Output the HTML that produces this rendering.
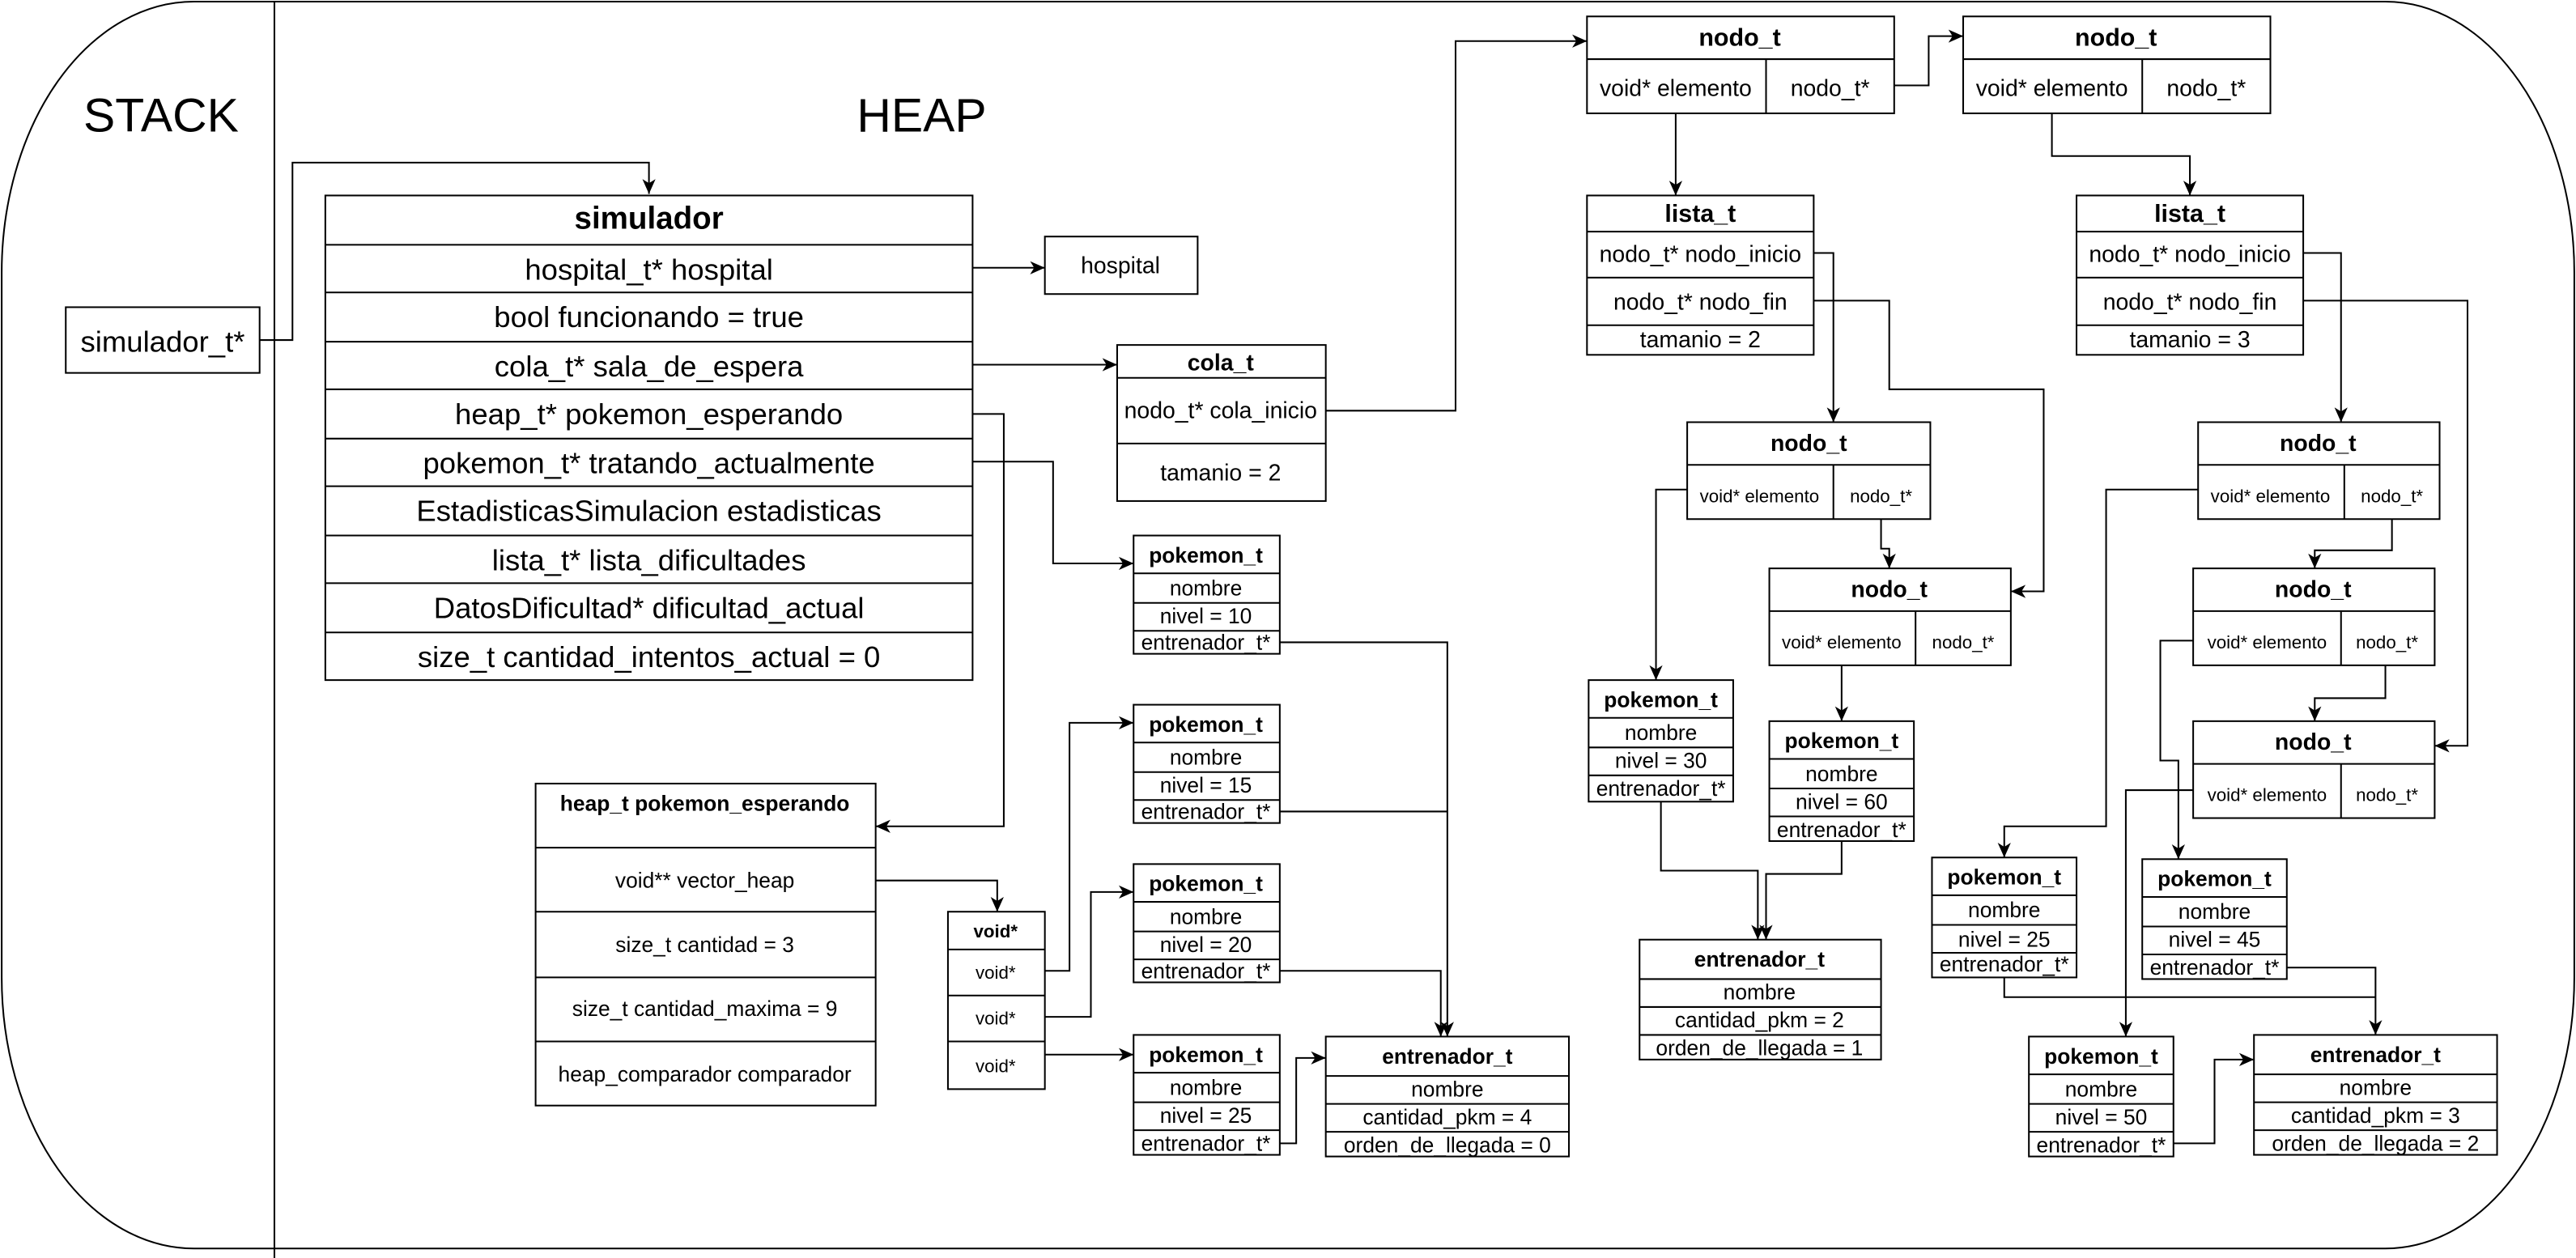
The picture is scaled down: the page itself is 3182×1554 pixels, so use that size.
<!DOCTYPE html>
<html><head><meta charset="utf-8"><style>
html,body{margin:0;padding:0;background:#fff;}
svg{display:block;}
text{font-family:"Liberation Sans",Arial,sans-serif;fill:#000;}
.b{font-weight:bold;}
</style></head><body>
<svg width="3182" height="1554" viewBox="0 0 1568 765.8" xmlns="http://www.w3.org/2000/svg">
<defs>
<marker id="a" markerWidth="10" markerHeight="10" refX="9" refY="5" orient="auto" markerUnits="userSpaceOnUse">
<path d="M0,1 L9,5 L0,9 L2.5,5 Z" fill="#000"/>
</marker>
</defs>
<g fill="none" stroke="#000" stroke-width="1">
<path d="M118,1 L1452,1 A115,165 0 0 1 1567,166 L1567,595 A115,165 0 0 1 1452,760 L118,760 A117,165 0 0 1 1,595 L1,166 A117,165 0 0 1 118,1 Z"/>
<line x1="167" y1="1" x2="167" y2="766"/>
</g>
<text x="98" y="80" font-size="29" text-anchor="middle">STACK</text>
<text x="561" y="80" font-size="29" text-anchor="middle">HEAP</text>

<g fill="#fff" stroke="#000" stroke-width="1">
<rect x="40" y="187" width="118" height="40"/>
<rect x="198" y="119" width="394" height="295"/>
<path d="M198,149H592M198,178H592M198,208H592M198,237H592M198,267H592M198,296H592M198,326H592M198,355H592M198,385H592" fill="none"/>
<rect x="636" y="144" width="93" height="35"/>
<rect x="680" y="210" width="127" height="95"/>
<path d="M680,230H807M680,270H807" fill="none"/>
<rect x="326" y="477" width="207" height="196"/>
<path d="M326,516H533M326,555H533M326,595H533M326,634H533" fill="none"/>
<rect x="577" y="555" width="59" height="108"/>
<path d="M577,578H636M577,606H636M577,634H636" fill="none"/>
<rect x="690" y="326" width="89" height="72"/><path d="M690,349H779M690,367H779M690,384H779" fill="none"/>
<rect x="690" y="429" width="89" height="72"/><path d="M690,452H779M690,470H779M690,487H779" fill="none"/>
<rect x="690" y="526" width="89" height="72"/><path d="M690,549H779M690,567H779M690,584H779" fill="none"/>
<rect x="690" y="630" width="89" height="73"/><path d="M690,653H779M690,671H779M690,688H779" fill="none"/>
<rect x="807" y="631" width="148" height="73"/><path d="M807,655H955M807,672H955M807,689H955" fill="none"/>
<rect x="966" y="10" width="187" height="59"/><path d="M966,36H1153M1075,36V69" fill="none"/>
<rect x="1195" y="10" width="187" height="59"/><path d="M1195,36H1382M1304,36V69" fill="none"/>
<rect x="966" y="119" width="138" height="97"/><path d="M966,141H1104M966,169H1104M966,198H1104" fill="none"/>
<rect x="1264" y="119" width="138" height="97"/><path d="M1264,141H1402M1264,169H1402M1264,198H1402" fill="none"/>
<rect x="1027" y="257" width="148" height="59"/><path d="M1027,283H1175M1116,283V316" fill="none"/>
<rect x="1077" y="346" width="147" height="59"/><path d="M1077,372H1224M1166,372V405" fill="none"/>
<rect x="967" y="414" width="88" height="74"/><path d="M967,437H1055M967,455H1055M967,472H1055" fill="none"/>
<rect x="1077" y="439" width="88" height="73"/><path d="M1077,462H1165M1077,480H1165M1077,497H1165" fill="none"/>
<rect x="998" y="572" width="147" height="73"/><path d="M998,596H1145M998,613H1145M998,630H1145" fill="none"/>
<rect x="1338" y="257" width="147" height="59"/><path d="M1338,283H1485M1427,283V316" fill="none"/>
<rect x="1335" y="346" width="147" height="59"/><path d="M1335,372H1482M1425,372V405" fill="none"/>
<rect x="1335" y="439" width="147" height="59"/><path d="M1335,465H1482M1425,465V498" fill="none"/>
<rect x="1176" y="522" width="88" height="73"/><path d="M1176,545H1264M1176,563H1264M1176,580H1264" fill="none"/>
<rect x="1304" y="523" width="88" height="73"/><path d="M1304,546H1392M1304,564H1392M1304,581H1392" fill="none"/>
<rect x="1235" y="631" width="88" height="73"/><path d="M1235,654H1323M1235,672H1323M1235,689H1323" fill="none"/>
<rect x="1372" y="630" width="148" height="73"/><path d="M1372,654H1520M1372,671H1520M1372,688H1520" fill="none"/>
</g>

<g fill="none" stroke="#000" stroke-width="1">
<path d="M779,494H881"/>
<path d="M1220,595V607H1446"/>
</g>
<g fill="none" stroke="#000" stroke-width="1" marker-end="url(#a)">
<path d="M158,207H178V99H395V118"/>
<path d="M592,163H636"/>
<path d="M592,222H680"/>
<path d="M592,252H611V503H533"/>
<path d="M592,281H641V343H690"/>
<path d="M807,250H886V25H966"/>
<path d="M779,391H881V631"/>
<path d="M779,591H877V631"/>
<path d="M779,696H789V644H807"/>
<path d="M533,536H607V555"/>
<path d="M636,591H651V440H690"/>
<path d="M636,619H664V543H690"/>
<path d="M636,642H690"/>
<path d="M1153,52H1174V22H1195"/>
<path d="M1020,69V119"/>
<path d="M1249,69V95H1333V119"/>
<path d="M1104,154H1116V257"/>
<path d="M1104,183H1150V237H1244V360H1224"/>
<path d="M1145,316V334H1150V346"/>
<path d="M1027,298H1008V414"/>
<path d="M1121,405V439"/>
<path d="M1011,488V530H1070V572"/>
<path d="M1121,512V532H1075V572"/>
<path d="M1402,154H1425V257"/>
<path d="M1402,183H1502V454H1482"/>
<path d="M1456,316V335H1409V346"/>
<path d="M1452,405V425H1409V439"/>
<path d="M1338,298H1282V503H1220V522"/>
<path d="M1335,390H1315V463H1326V523"/>
<path d="M1335,481H1294V631"/>
<path d="M1392,589H1446V630"/>
<path d="M1323,696H1348V645H1372"/>
</g>

<g font-size="18" text-anchor="middle" dominant-baseline="central">
<text x="99" y="208">simulador_t*</text>
<text x="395" y="133" class="b" font-size="19">simulador</text>
<text x="395" y="164">hospital_t* hospital</text>
<text x="395" y="193">bool funcionando = true</text>
<text x="395" y="223">cola_t* sala_de_espera</text>
<text x="395" y="252">heap_t* pokemon_esperando</text>
<text x="395" y="282">pokemon_t* tratando_actualmente</text>
<text x="395" y="311">EstadisticasSimulacion estadisticas</text>
<text x="395" y="341">lista_t* lista_dificultades</text>
<text x="395" y="370">DatosDificultad* dificultad_actual</text>
<text x="395" y="400">size_t cantidad_intentos_actual = 0</text>
</g>
<g font-size="14" text-anchor="middle" dominant-baseline="central">
<text x="682" y="162">hospital</text>
<text x="743" y="221" class="b">cola_t</text>
<text x="743" y="250">nodo_t* cola_inicio</text>
<text x="743" y="288">tamanio = 2</text>
<text x="429" y="489" class="b" font-size="13">heap_t pokemon_esperando</text>
<text x="429" y="536" font-size="13">void** vector_heap</text>
<text x="429" y="575" font-size="13">size_t cantidad = 3</text>
<text x="429" y="614" font-size="13">size_t cantidad_maxima = 9</text>
<text x="429" y="654" font-size="13">heap_comparador comparador</text>
<text x="606" y="567" class="b" font-size="11">void*</text>
<text x="606" y="592" font-size="11">void*</text>
<text x="606" y="620" font-size="11">void*</text>
<text x="606" y="649" font-size="11">void*</text>

<text x="1059" y="23" class="b" font-size="15">nodo_t</text>
<text x="1020" y="54">void* elemento</text>
<text x="1114" y="54">nodo_t*</text>
<text x="1288" y="23" class="b" font-size="15">nodo_t</text>
<text x="1249" y="54">void* elemento</text>
<text x="1343" y="54">nodo_t*</text>
<text x="1035" y="130" class="b" font-size="15">lista_t</text>
<text x="1035" y="155">nodo_t* nodo_inicio</text>
<text x="1035" y="184">nodo_t* nodo_fin</text>
<text x="1035" y="207">tamanio = 2</text>
<text x="1333" y="130" class="b" font-size="15">lista_t</text>
<text x="1333" y="155">nodo_t* nodo_inicio</text>
<text x="1333" y="184">nodo_t* nodo_fin</text>
<text x="1333" y="207">tamanio = 3</text>

<text x="1101" y="270" class="b">nodo_t</text>
<text x="1150" y="359" class="b">nodo_t</text>
<text x="1411" y="270" class="b">nodo_t</text>
<text x="1408" y="359" class="b">nodo_t</text>
<text x="1408" y="452" class="b">nodo_t</text>
</g>
<g font-size="11" text-anchor="middle" dominant-baseline="central">
<text x="1071" y="302">void* elemento</text><text x="1145" y="302">nodo_t*</text>
<text x="1121" y="391">void* elemento</text><text x="1195" y="391">nodo_t*</text>
<text x="1382" y="302">void* elemento</text><text x="1456" y="302">nodo_t*</text>
<text x="1380" y="391">void* elemento</text><text x="1453" y="391">nodo_t*</text>
<text x="1380" y="484">void* elemento</text><text x="1453" y="484">nodo_t*</text>
</g>

<g font-size="13" text-anchor="middle" dominant-baseline="central">
<text x="734" y="338" class="b">pokemon_t</text><text x="734" y="358">nombre</text><text x="734" y="375">nivel = 10</text><text x="734" y="391">entrenador_t*</text>
<text x="734" y="441" class="b">pokemon_t</text><text x="734" y="461">nombre</text><text x="734" y="478">nivel = 15</text><text x="734" y="494">entrenador_t*</text>
<text x="734" y="538" class="b">pokemon_t</text><text x="734" y="558">nombre</text><text x="734" y="575">nivel  = 20</text><text x="734" y="591">entrenador_t*</text>
<text x="734" y="642" class="b">pokemon_t</text><text x="734" y="662">nombre</text><text x="734" y="679">nivel = 25</text><text x="734" y="696">entrenador_t*</text>
<text x="881" y="643" class="b">entrenador_t</text><text x="881" y="663">nombre</text><text x="881" y="680">cantidad_pkm = 4</text><text x="881" y="697">orden_de_llegada = 0</text>
<text x="1011" y="426" class="b">pokemon_t</text><text x="1011" y="446">nombre</text><text x="1011" y="463">nivel = 30</text><text x="1011" y="480">entrenador_t*</text>
<text x="1121" y="451" class="b">pokemon_t</text><text x="1121" y="471">nombre</text><text x="1121" y="488">nivel = 60</text><text x="1121" y="505">entrenador_t*</text>
<text x="1071" y="584" class="b">entrenador_t</text><text x="1071" y="604">nombre</text><text x="1071" y="621">cantidad_pkm = 2</text><text x="1071" y="638">orden_de_llegada = 1</text>
<text x="1220" y="534" class="b">pokemon_t</text><text x="1220" y="554">nombre</text><text x="1220" y="572">nivel = 25</text><text x="1220" y="587">entrenador_t*</text>
<text x="1348" y="535" class="b">pokemon_t</text><text x="1348" y="555">nombre</text><text x="1348" y="572">nivel = 45</text><text x="1348" y="589">entrenador_t*</text>
<text x="1279" y="643" class="b">pokemon_t</text><text x="1279" y="663">nombre</text><text x="1279" y="680">nivel = 50</text><text x="1279" y="697">entrenador_t*</text>
<text x="1446" y="642" class="b">entrenador_t</text><text x="1446" y="662">nombre</text><text x="1446" y="679">cantidad_pkm = 3</text><text x="1446" y="696">orden_de_llegada = 2</text>
</g>
</svg>
</body></html>
